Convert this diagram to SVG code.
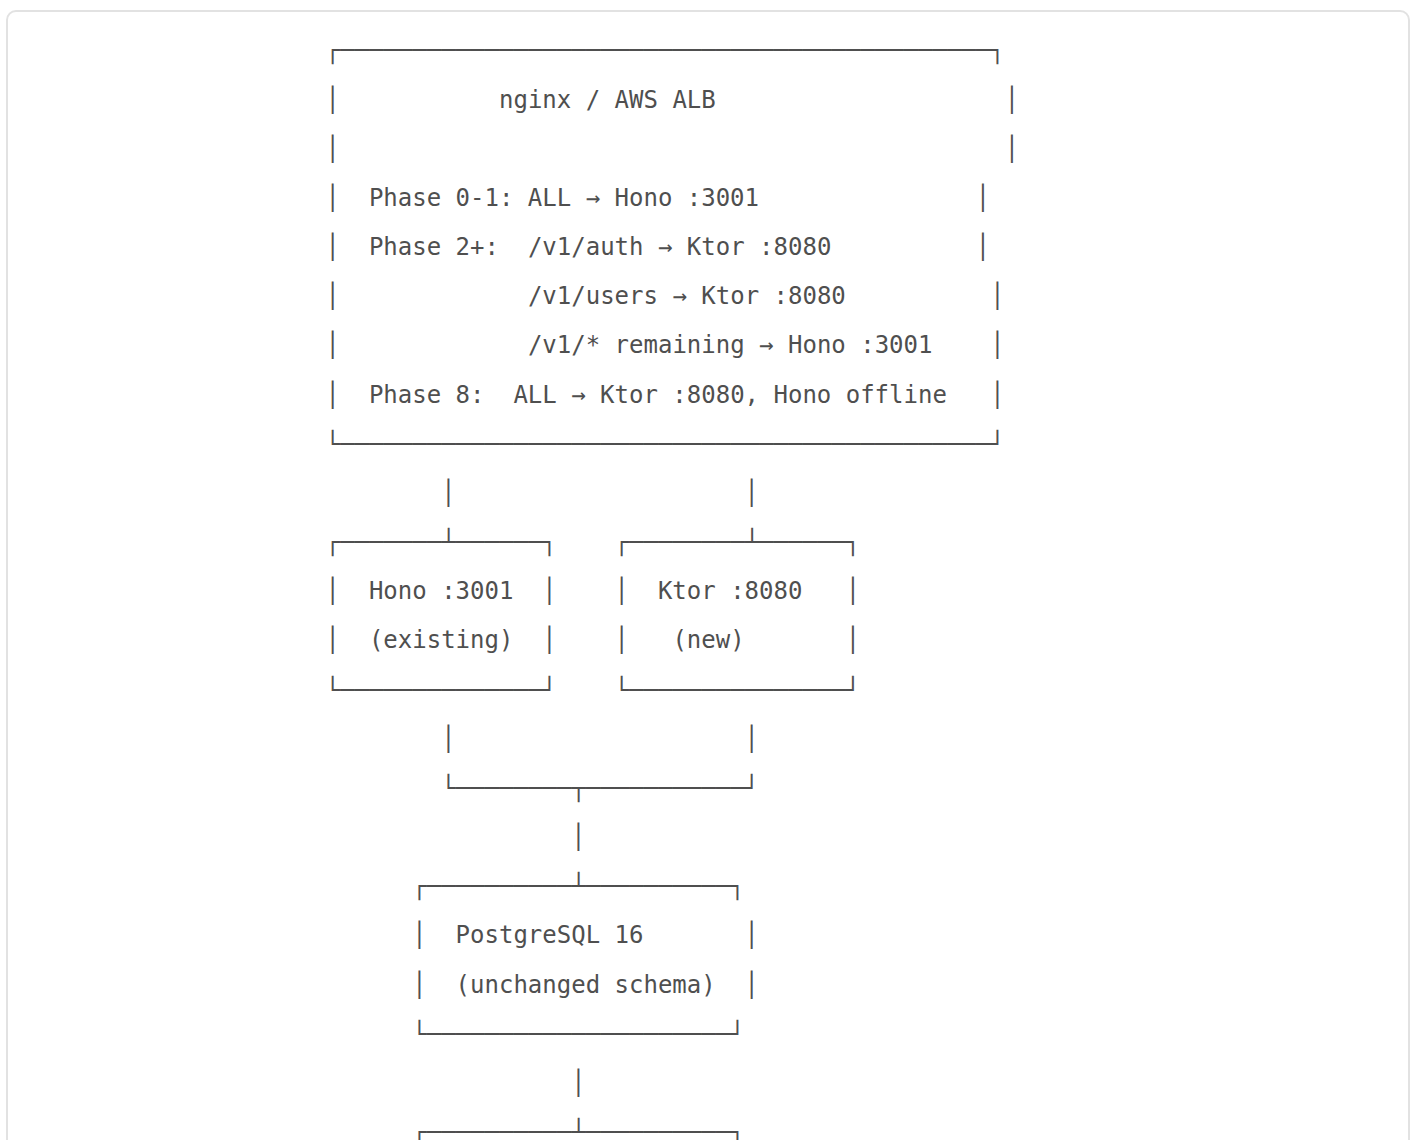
<svg xmlns="http://www.w3.org/2000/svg" width="1416" height="1140" viewBox="0 0 1416 1140">
<style>
text{font-family:"DejaVu Sans Mono","Liberation Mono",monospace;font-size:24px;fill:#4f4f4f}
</style>
<rect x="0" y="0" width="1416" height="1140" fill="#ffffff"/>
<rect x="7" y="11" width="1402" height="1160" rx="9" fill="#ffffff" stroke="#e2e2e2" stroke-width="2"/>
<g id="load-balancer">
<text x="325.6" y="58.3">┌─────────────────────────────────────────────┐</text>
<text y="107.5"><tspan x="325.6">│</tspan><tspan x="499">nginx / AWS ALB</tspan><tspan x="1004.7">│</tspan></text>
<text y="156.6"><tspan x="325.6">│</tspan><tspan x="1004.7">│</tspan></text>
<text y="205.8"><tspan x="325.6">│</tspan><tspan x="368.9">Phase 0-1: ALL → Hono :3001</tspan><tspan x="975.8">│</tspan></text>
<text y="255"><tspan x="325.6">│</tspan><tspan x="368.9">Phase 2+:</tspan><tspan x="527.9">/v1/auth → Ktor :8080</tspan><tspan x="975.8">│</tspan></text>
<text y="304.2"><tspan x="325.6">│</tspan><tspan x="527.9">/v1/users → Ktor :8080</tspan><tspan x="990.3">│</tspan></text>
<text y="353.3"><tspan x="325.6">│</tspan><tspan x="527.9">/v1/* remaining → Hono :3001</tspan><tspan x="990.3">│</tspan></text>
<text y="402.5"><tspan x="325.6">│</tspan><tspan x="368.9">Phase 8:</tspan><tspan x="513.4">ALL → Ktor :8080, Hono offline</tspan><tspan x="990.3">│</tspan></text>
<text x="325.6" y="451.7">└─────────────────────────────────────────────┘</text>
</g>
<g id="connectors">
<text y="500.8"><tspan x="441.2">│</tspan><tspan x="744.6">│</tspan></text>
<text y="746.7"><tspan x="441.2">│</tspan><tspan x="744.6">│</tspan></text>
<text x="441.2" y="795.9">└────────┬───────────┘</text>
<text x="571.2" y="845">│</text>
<text x="571.2" y="1090.9">│</text>
</g>
<g id="hono">
<text x="325.6" y="550">┌───────┴──────┐</text>
<text y="599.2"><tspan x="325.6">│</tspan><tspan x="368.9">Hono :3001</tspan><tspan x="542.3">│</tspan></text>
<text y="648.3"><tspan x="325.6">│</tspan><tspan x="368.9">(existing)</tspan><tspan x="542.3">│</tspan></text>
<text x="325.6" y="697.5">└──────────────┘</text>
</g>
<g id="ktor">
<text x="614.6" y="550">┌────────┴──────┐</text>
<text y="599.2"><tspan x="614.6">│</tspan><tspan x="657.9">Ktor :8080</tspan><tspan x="845.8">│</tspan></text>
<text y="648.3"><tspan x="614.6">│</tspan><tspan x="672.4">(new)</tspan><tspan x="845.8">│</tspan></text>
<text x="614.6" y="697.5">└───────────────┘</text>
</g>
<g id="postgres">
<text x="412.3" y="894.2">┌──────────┴──────────┐</text>
<text y="943.4"><tspan x="412.3">│</tspan><tspan x="455.6">PostgreSQL 16</tspan><tspan x="744.6">│</tspan></text>
<text y="992.5"><tspan x="412.3">│</tspan><tspan x="455.6">(unchanged schema)</tspan><tspan x="744.6">│</tspan></text>
<text x="412.3" y="1041.7">└─────────────────────┘</text>
</g>
<g id="next-node">
<text x="412.3" y="1140">┌──────────┴──────────┐</text>
</g>
</svg>
